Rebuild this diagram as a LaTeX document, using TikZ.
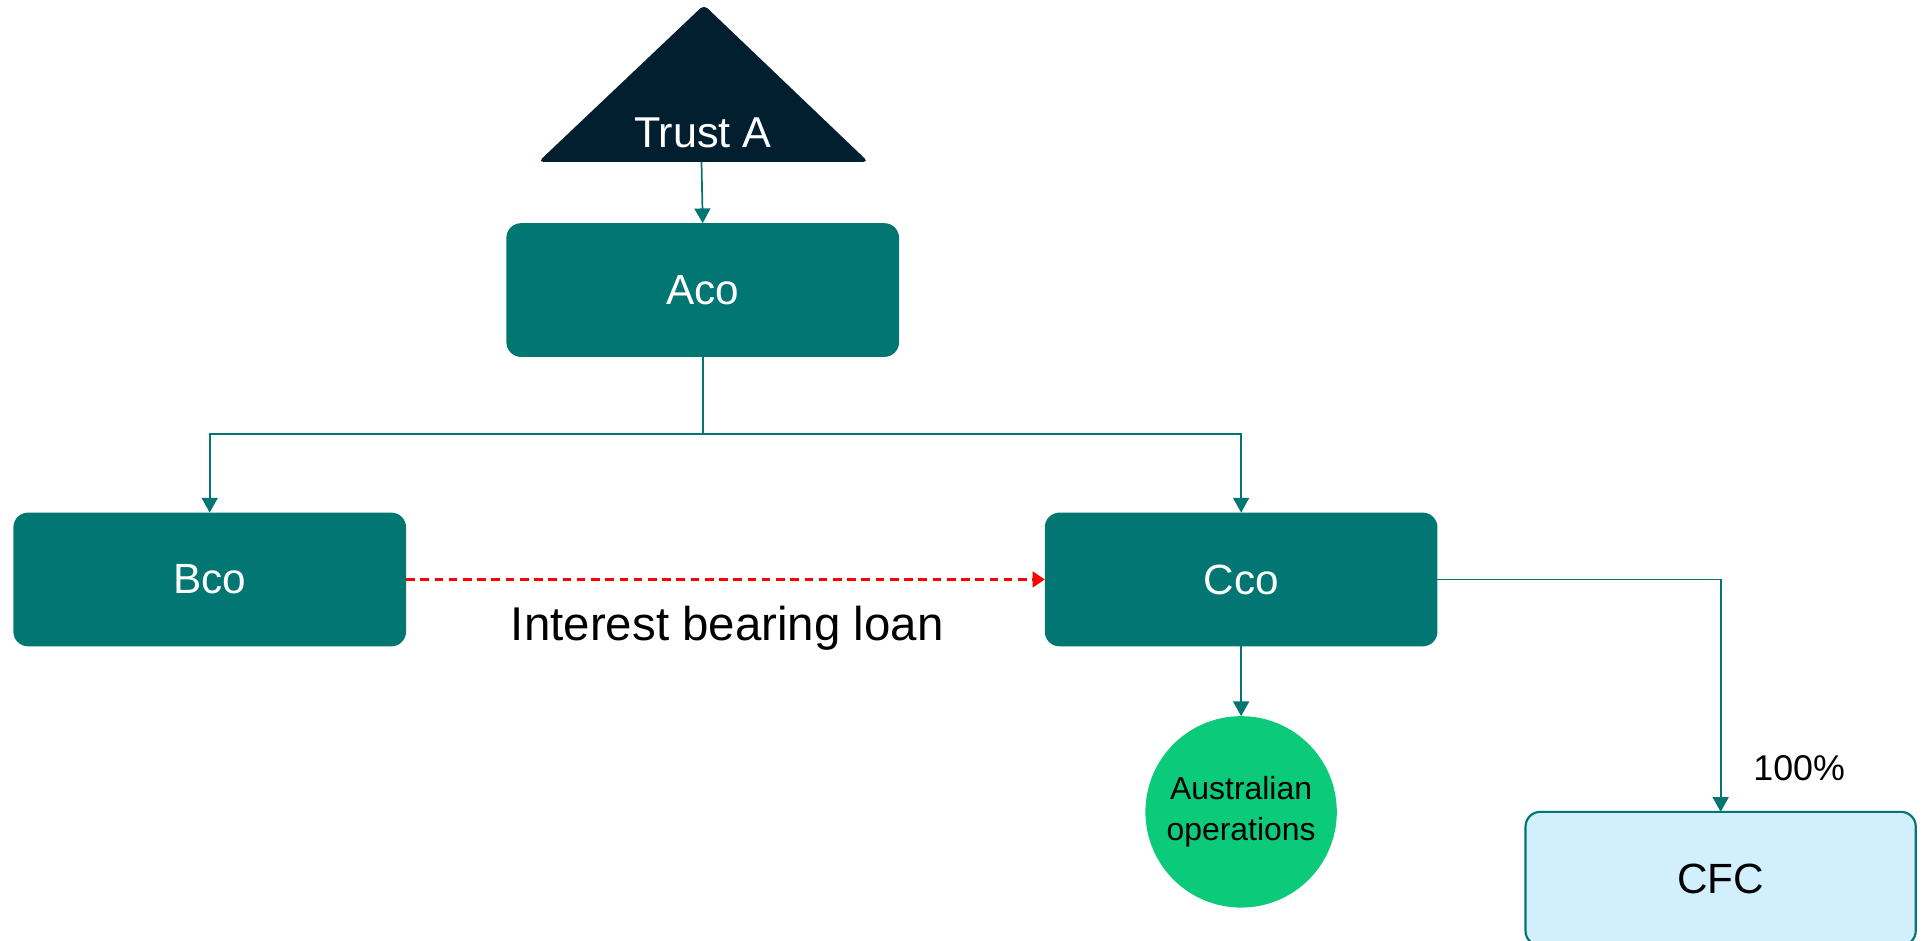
\documentclass[tikz,border=0pt]{standalone}
\usepackage{fontspec}
\setmainfont{Liberation Sans}
\usepackage{tikz}
\usetikzlibrary{arrows.meta}
\usepackage{xcolor}
\definecolor{tealco}{HTML}{027672}
\definecolor{trustnavy}{HTML}{021F2F}
\definecolor{opsgreen}{HTML}{0BCB7B}
\definecolor{cfcblue}{HTML}{D1EFFC}

\begin{document}
\begin{tikzpicture}[x=0.01cm,y=-0.01cm,
  company/.style={fill=tealco, rounded corners=0.12cm, minimum width=3.2cm,
    minimum height=1.09cm, outer sep=0pt, text=white, font=\fontsize{9.8}{12}\selectfont},
  owns/.style={draw=tealco, line width=0.4pt, -{Triangle[width=0.13cm,length=0.12cm]}},
  loan/.style={draw=red, line width=0.5pt, dash pattern=on 2pt off 1.3pt,
    -{Triangle[width=0.13cm,length=0.1cm]}}]
  \useasboundingbox (0,0) rectangle (1568,767);
  % trust
  \fill[trustnavy, rounded corners=0.04cm] (574,4) -- (708,132) -- (439,132) -- cycle;
  \node[text=white, font=\fontsize{10}{12}\selectfont] (trust) at (573,108) {Trust A};
  \coordinate (trustbase) at (572,132);
  % companies
  \node[company] (aco) at (573,236.5) {Aco};
  \node[company] (bco) at (171,472.5) {Bco};
  \node[company] (cco) at (1012,472.5) {Cco};
  \node[company, fill=cfcblue, draw=tealco, line width=0.5pt, text=black,
    minimum width=3.18cm] (cfc) at (1403,716.5) {CFC};
  \node[circle, fill=opsgreen, minimum size=1.56cm, inner sep=0pt, outer sep=0pt,
    align=center, font=\fontsize{7.4}{9.5}\selectfont] (aus) at (1012,662)
    {Australian\\operations};
  % links
  \coordinate (split) at (573,354);
  \draw[owns] (trustbase) -- (aco.north);
  \draw[draw=tealco, line width=0.4pt] (aco.south) -- (split);
  \draw[owns] (split) -| (bco.north);
  \draw[owns] (split) -| (cco.north);
  \draw[owns] (cco.south) -- (aus.north);
  \draw[owns] (cco.east) -| (cfc.north);
  \draw[loan] (bco.east) -- (cco.west);
  \node[font=\fontsize{11}{13}\selectfont] (loanlabel) at (593,512) {Interest bearing loan};
  \node[font=\fontsize{8.3}{10}\selectfont] (share) at (1467,626) {100\%};
\end{tikzpicture}
\end{document}
